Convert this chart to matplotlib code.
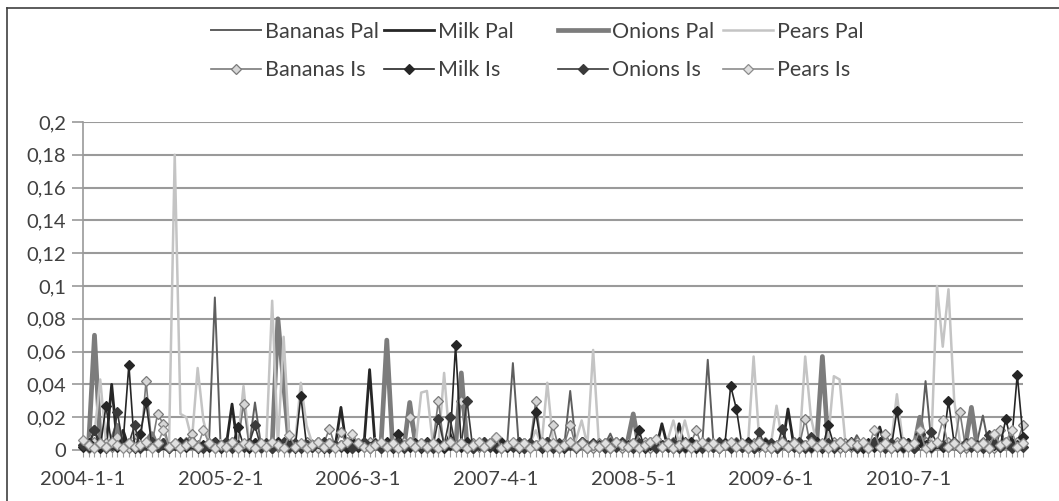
import matplotlib.pyplot as plt
import numpy as np
from matplotlib.lines import Line2D
from matplotlib.ticker import FuncFormatter

# values in thousandths (one point per category)
bananas_pal = [
    2, 4, 3, 1, 5, 2, 0, 3, 6, 2, 1, 4, 8, 3, 2,
    1, 3, 2, 5, 0, 2, 4, 6, 93, 3, 1, 5, 2, 4, 2,
    29, 4, 1, 3, 5, 2, 0, 4, 3, 1, 6, 2, 3, 1, 4,
    2, 5, 1, 3, 0, 4, 2, 6, 3, 1, 2, 5, 3, 1, 4,
    2, 0, 3, 5, 1, 2, 4, 1, 3, 6, 2, 0, 4, 2, 3,
    53, 4, 1, 3, 2, 5, 0, 3, 2, 4, 36, 3, 1, 2, 5,
    1, 3, 10, 2, 4, 0, 3, 1, 5, 2, 3, 1, 4, 2, 0,
    3, 2, 5, 1, 55, 4, 2, 0, 3, 5, 1, 2, 4, 3, 1,
    2, 5, 3, 0, 4, 2, 1, 3, 5, 2, 0, 4, 3, 1, 2,
    9, 3, 1, 4, 2, 5, 0, 3, 2, 4, 1, 3, 42, 5, 2,
    1, 3, 2, 4, 0, 2, 5, 21, 3, 1, 4, 2, 6, 3, 2]
milk_pal = [
    1, 2, 0, 3, 1, 40, 2, 12, 1, 0, 3, 2, 1, 4, 0,
    2, 1, 3, 0, 2, 1, 4, 1, 0, 2, 3, 28, 1, 2, 0,
    3, 1, 2, 0, 4, 1, 2, 3, 0, 1, 2, 4, 1, 3, 2,
    26, 1, 3, 0, 2, 49, 1, 2, 4, 0, 3, 1, 2, 0, 3,
    1, 2, 4, 0, 10, 2, 1, 3, 0, 2, 4, 1, 2, 3, 0,
    2, 1, 3, 2, 0, 4, 1, 2, 3, 1, 0, 2, 4, 1, 2,
    3, 0, 2, 1, 4, 2, 0, 3, 1, 2, 1, 16, 2, 0, 16,
    1, 3, 0, 2, 4, 1, 2, 3, 0, 1, 2, 4, 1, 3, 2,
    0, 2, 1, 25, 3, 1, 0, 2, 4, 1, 3, 0, 2, 1, 3,
    2, 0, 3, 1, 14, 2, 0, 3, 1, 2, 4, 0, 1, 3, 2,
    1, 3, 0, 2, 1, 4, 2, 0, 3, 1, 12, 2, 0, 3, 1]
onions_pal = [
    3, 5, 70, 4, 2, 6, 15, 3, 1, 4, 2, 5, 10, 2, 3,
    1, 4, 2, 3, 5, 1, 2, 3, 6, 2, 4, 1, 3, 2, 5,
    2, 1, 4, 3, 80, 40, 2, 5, 3, 1, 4, 2, 0, 3, 1,
    4, 2, 3, 5, 1, 3, 2, 4, 67, 3, 1, 2, 29, 4, 2,
    3, 1, 5, 2, 4, 2, 47, 3, 1, 2, 5, 3, 1, 4, 2,
    1, 3, 2, 4, 2, 5, 1, 3, 0, 2, 4, 1, 3, 2, 5,
    2, 4, 1, 3, 2, 5, 22, 2, 4, 1, 3, 2, 5, 1, 3,
    2, 1, 4, 3, 5, 2, 1, 3, 2, 4, 1, 5, 2, 3, 1,
    4, 2, 3, 1, 5, 2, 3, 2, 4, 57, 3, 1, 2, 5, 2,
    3, 1, 4, 2, 5, 3, 1, 2, 4, 3, 2, 20, 3, 1, 4,
    2, 5, 3, 1, 4, 26, 2, 3, 1, 4, 2, 5, 3, 2, 4]
pears_pal = [
    4, 6, 10, 43, 5, 3, 8, 2, 6, 8, 4, 3, 6, 2, 5,
    3, 180, 22, 20, 6, 50, 18, 4, 2, 6, 3, 5, 4, 39, 3,
    5, 4, 6, 91, 3, 69, 6, 4, 41, 15, 4, 3, 6, 2, 5,
    3, 6, 2, 5, 4, 3, 7, 2, 5, 4, 6, 3, 5, 2, 35,
    36, 5, 3, 47, 4, 2, 6, 3, 5, 4, 3, 6, 10, 4, 3,
    5, 3, 6, 4, 12, 3, 41, 5, 3, 4, 2, 6, 18, 3, 61,
    4, 3, 6, 2, 5, 4, 3, 6, 5, 4, 3, 5, 6, 18, 4,
    18, 4, 6, 3, 5, 4, 3, 5, 6, 4, 3, 2, 57, 5, 4,
    3, 27, 5, 4, 6, 3, 57, 20, 4, 3, 6, 45, 43, 5, 3,
    5, 3, 6, 4, 3, 5, 4, 34, 6, 3, 5, 4, 6, 3, 100,
    63, 98, 30, 5, 4, 6, 3, 5, 4, 6, 3, 5, 4, 6, 3]
bananas_is = [
    3, 1, 5, 2, 4, 2, 8, 3, 1, 4, 2, 42, 3, 22, 16,
    2, 4, 1, 5, 10, 3, 2, 4, 1, 3, 2, 5, 3, 28, 2,
    4, 1, 3, 5, 2, 4, 1, 3, 2, 5, 3, 1, 4, 13, 2,
    11, 3, 1, 4, 2, 5, 3, 1, 4, 2, 3, 5, 20, 2, 4,
    1, 3, 30, 2, 5, 3, 30, 1, 4, 2, 5, 3, 1, 4, 2,
    3, 5, 1, 4, 30, 2, 3, 15, 1, 4, 15, 2, 5, 3, 1,
    4, 2, 5, 3, 1, 4, 2, 3, 5, 1, 4, 3, 2, 5, 3,
    1, 4, 12, 2, 5, 3, 1, 4, 2, 5, 3, 1, 4, 2, 5,
    3, 1, 4, 2, 5, 3, 19, 1, 4, 2, 3, 5, 1, 4, 2,
    5, 3, 1, 4, 2, 10, 3, 5, 1, 4, 2, 3, 5, 1, 4,
    2, 5, 3, 23, 1, 4, 2, 5, 3, 1, 12, 4, 2, 5, 15]
milk_is = [
    2, 4, 12, 1, 27, 3, 2, 5, 52, 1, 10, 29, 3, 2, 4,
    1, 3, 5, 2, 4, 1, 3, 2, 5, 1, 4, 2, 14, 3, 1,
    4, 2, 3, 1, 5, 2, 4, 1, 33, 3, 2, 5, 1, 4, 2,
    3, 1, 5, 2, 4, 1, 3, 2, 5, 1, 10, 3, 2, 4, 1,
    5, 2, 4, 1, 3, 64, 2, 5, 1, 3, 2, 4, 1, 5, 2,
    3, 1, 4, 2, 23, 1, 5, 2, 3, 1, 4, 2, 5, 1, 3,
    2, 4, 1, 5, 3, 2, 4, 12, 1, 3, 5, 2, 4, 1, 3,
    2, 5, 1, 4, 3, 2, 1, 4, 39, 25, 2, 5, 1, 3, 4,
    1, 3, 5, 2, 4, 1, 3, 2, 5, 1, 15, 3, 4, 2, 5,
    3, 1, 4, 2, 5, 3, 1, 24, 2, 4, 1, 5, 3, 2, 4,
    2, 30, 4, 1, 3, 5, 2, 4, 1, 3, 2, 19, 4, 46, 8]
onions_is = [
    3, 2, 12, 4, 1, 3, 23, 2, 4, 15, 1, 3, 5, 2, 4,
    1, 3, 2, 4, 5, 2, 1, 3, 4, 2, 5, 1, 3, 2, 4,
    15, 2, 4, 1, 3, 5, 2, 4, 1, 3, 2, 4, 5, 1, 3,
    2, 4, 1, 3, 5, 2, 4, 1, 3, 2, 4, 1, 5, 3, 2,
    4, 1, 19, 3, 20, 2, 4, 30, 1, 3, 5, 2, 4, 1, 3,
    2, 5, 1, 4, 3, 2, 5, 1, 4, 2, 3, 1, 5, 2, 4,
    3, 1, 4, 2, 5, 3, 1, 4, 2, 5, 1, 3, 2, 4, 1,
    5, 2, 3, 1, 4, 2, 5, 3, 1, 4, 2, 3, 1, 11, 2,
    4, 1, 13, 3, 2, 5, 1, 8, 3, 2, 4, 1, 5, 2, 3,
    1, 4, 2, 5, 3, 1, 4, 2, 5, 3, 1, 10, 2, 11, 4,
    3, 2, 5, 1, 4, 2, 3, 1, 9, 4, 2, 5, 1, 3, 2]
pears_is = [
    6, 3, 1, 4, 2, 5, 3, 1, 4, 2, 3, 5, 1, 4, 12,
    2, 4, 1, 3, 5, 2, 12, 4, 1, 3, 2, 5, 1, 4, 3,
    1, 4, 2, 5, 3, 1, 9, 2, 4, 1, 3, 5, 2, 4, 1,
    3, 5, 10, 4, 2, 1, 3, 5, 2, 4, 1, 3, 5, 2, 4,
    2, 4, 1, 3, 5, 2, 4, 1, 3, 5, 2, 4, 8, 1, 3,
    5, 2, 4, 1, 3, 5, 2, 4, 1, 3, 5, 2, 4, 1, 3,
    2, 4, 1, 5, 3, 2, 4, 1, 3, 5, 7, 2, 4, 1, 3,
    4, 1, 3, 5, 2, 4, 1, 3, 5, 2, 4, 1, 3, 5, 2,
    1, 3, 5, 2, 4, 1, 3, 5, 2, 4, 1, 3, 5, 2, 4,
    3, 5, 1, 12, 2, 4, 1, 3, 5, 2, 4, 12, 1, 3, 5,
    18, 2, 4, 1, 3, 5, 2, 4, 1, 10, 3, 5, 12, 2, 4]

tick_labels = ['2004-1-1', '2005-2-1', '2006-3-1', '2007-4-1',
               '2008-5-1', '2009-6-1', '2010-7-1']
label_step = 24

plt.rcParams['font.family'] = ['Lato', 'DejaVu Sans']
txt = '#404040'
grid = '#9a9a9a'

n = len(pears_pal)
x = np.arange(n)

fig = plt.figure(figsize=(10.59, 5.01), dpi=100)
ax = fig.add_axes([0.0784, 0.1018, 0.8876, 0.6547])

def arr(v):
    return np.array(v) / 1000.0

pal_style = [
    ('Bananas Pal', bananas_pal, '#5e5e5e', 1.4),
    ('Milk Pal', milk_pal, '#262626', 2.0),
    ('Onions Pal', onions_pal, '#7c7c7c', 3.4),
    ('Pears Pal', pears_pal, '#c4c4c4', 1.8),
]
is_style = [
    ('Bananas Is', bananas_is, '#7a7a7a', '#d6d6d6', '#7a7a7a'),
    ('Milk Is', milk_is, '#262626', '#262626', '#262626'),
    ('Onions Is', onions_is, '#3a3a3a', '#3a3a3a', '#3a3a3a'),
    ('Pears Is', pears_is, '#8c8c8c', '#e0e0e0', '#8c8c8c'),
]

pal_lines = []
for name, vals, col, lw in pal_style:
    l, = ax.plot(x, arr(vals), color=col, lw=lw, label=name, zorder=3)
    pal_lines.append(l)

is_lines = []
for name, vals, col, mfc, mec in is_style:
    l, = ax.plot(x, arr(vals), color=col, lw=1.2, marker='D', ms=5.2,
                 mfc=mfc, mec=mec, mew=0.9, label=name, zorder=4, clip_on=False)
    is_lines.append(l)

ax.set_xlim(0, n - 1)
ax.set_ylim(0, 0.2)
ax.set_yticks(np.arange(0, 0.201, 0.02))
ax.yaxis.set_major_formatter(FuncFormatter(lambda v, p: f"{v:g}".replace('.', ',')))
ax.set_xticks(np.arange(0, n, label_step)[:len(tick_labels)])
ax.set_xticklabels(tick_labels)
ax.set_xticks(x, minor=True)

ax.grid(axis='y', color=grid, lw=1.5, zorder=0)
ax.set_axisbelow(True)
for s in ['top', 'right']:
    ax.spines[s].set_visible(False)
ax.spines['left'].set_color(grid)
ax.spines['bottom'].set_color(grid)
ax.spines['left'].set_linewidth(1.2)
ax.spines['bottom'].set_linewidth(1.5)

ax.tick_params(axis='y', colors=grid, length=8, width=1.2, labelcolor=txt,
               labelsize=14.5, pad=4)
ax.tick_params(axis='x', which='both', colors=grid, length=5, width=0.8,
               labelcolor=txt, labelsize=14.5, pad=10)

# legend: four columns, fruit per column
col_x = [211, 384, 558, 723]
for i in range(4):
    fig.legend(handles=[pal_lines[i], is_lines[i]],
               loc='upper left', bbox_to_anchor=(col_x[i] / 1059, 1 - 22 / 501),
               bbox_transform=fig.transFigure, frameon=False, fontsize=15.5,
               handlelength=2.3, handletextpad=0.2, borderpad=0,
               borderaxespad=0, labelspacing=0.84, numpoints=1,
               labelcolor=txt)

# outer frame (top and left edges visible)
fig.add_artist(Line2D([7 / 1059, 1], [1 - 8 / 501, 1 - 8 / 501],
                      transform=fig.transFigure, color='#404040', lw=1.2))
fig.add_artist(Line2D([7 / 1059, 7 / 1059], [0, 1 - 8 / 501],
                      transform=fig.transFigure, color='#404040', lw=1.2))

fig.savefig('out.png', dpi=100)
